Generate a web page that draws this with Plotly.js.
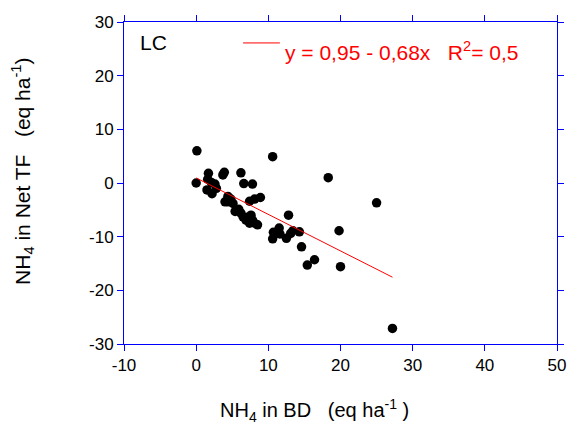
<!DOCTYPE html>
<html>
<head>
<meta charset="utf-8">
<script src="https://cdn.plot.ly/plotly-3.0.1.min.js"></script>
<style>html,body{margin:0;padding:0;background:#fff;}#chart{width:569px;height:428px;}</style>
</head>
<body>
<div id="chart"></div>
<script>
// NH4 in BD (x) vs NH4 in Net TF (y), eq ha-1
const nh4BD = [0.1, 0.0, 1.7, 1.6, 2.1, 2.6, 1.5, 2.8, 2.2, 3.7, 3.9, 4.0, 4.4, 4.4, 5.1,
  6.2, 6.6, 7.8, 5.9, 6.2, 6.5, 6.9, 7.4, 7.6, 7.8, 8.1, 8.5, 7.4, 8.1, 8.9,
  10.6, 10.6, 10.7, 11.5, 11.6, 12.5, 13.1, 13.4, 14.3, 12.8, 14.6, 16.4, 15.4,
  20.0, 19.8, 18.3, 25.0, 27.2, 5.4, 7.1, 4.8];
const nh4NetTF = [6.0, 0.0, 1.8, 0.7, 0.1, -0.2, -1.3, -1.0, -2.0, 1.5, 2.0, -3.5, -2.5, -3.5, -3.8,
  1.9, -0.1, -0.2, -4.9, -5.6, -6.3, -6.9, -7.5, -6.0, -6.9, -7.5, -7.8, -3.4, -3.0, -2.7,
  4.9, -10.4, -9.2, -8.4, -9.5, -10.3, -9.4, -8.9, -9.1, -6.0, -11.9, -14.3, -15.3,
  -15.6, -8.9, 1.0, -3.7, -27.1, -5.3, -6.4, -3.0];
// fitted regression y = 0,95 - 0,68x, drawn over the observed x range
const fitX = [0.0, 27.2];
const fitY = [0.95, -17.55];
const xTicks = [-10, 0, 10, 20, 30, 40, 50];
const yTicks = [-30, -20, -10, 0, 10, 20, 30];
const fitLabel = 'y = 0,95 - 0,68x\u00a0\u00a0\u00a0R<sup>2</sup>= 0,5';
const siteLabel = 'LC';
const xTitle = 'NH<sub>4</sub> in BD\u00a0\u00a0\u00a0(eq ha<sup>-1</sup> )';
const yTitle = 'NH<sub>4</sub> in Net TF\u00a0\u00a0\u00a0(eq ha<sup>-1</sup>)';

const FONT = 'Liberation Sans, Arial, sans-serif';
const axisCommon = {
  showline: true, linecolor: '#0000ff', linewidth: 1, mirror: 'ticks',
  ticks: 'outside', ticklen: 6, tickcolor: '#0000ff', tickwidth: 1,
  showgrid: false, zeroline: false, tickmode: 'array',
  tickfont: {family: FONT, size: 17, color: '#000'}
};

const data = [
  {x: nh4BD, y: nh4NetTF, type: 'scatter', mode: 'markers',
   marker: {color: '#000', size: 9.5}, showlegend: false},
  {x: fitX, y: fitY, type: 'scatter', mode: 'lines',
   line: {color: '#ff0000', width: 1}, showlegend: false}
];

const layout = {
  width: 569, height: 428,
  margin: {l: 124, r: 12, t: 22, b: 84},
  paper_bgcolor: '#fff', plot_bgcolor: '#fff',
  font: {family: FONT, color: '#000'},
  showlegend: false,
  xaxis: Object.assign({}, axisCommon, {
    range: [-10, 50], tickvals: xTicks, ticktext: xTicks.map(String)
  }),
  yaxis: Object.assign({}, axisCommon, {
    range: [-30, 30], tickvals: yTicks, ticktext: yTicks.map(String)
  }),
  shapes: [
    {type: 'line', xref: 'paper', yref: 'paper', x0: 0.275, x1: 0.36, y0: 0.935, y1: 0.935,
     line: {color: '#ff0000', width: 1}}
  ],
  annotations: [
    {text: siteLabel, xref: 'paper', yref: 'paper', x: 0.033, y: 0.935,
     xanchor: 'left', yanchor: 'middle', showarrow: false,
     font: {size: 21, color: '#000'}},
    {text: fitLabel, xref: 'paper', yref: 'paper', x: 0.368, y: 0.91,
     xanchor: 'left', yanchor: 'middle', showarrow: false,
     font: {size: 21, color: '#ff0000'}},
    {text: xTitle, xref: 'paper', yref: 'paper', x: 0.441, y: -0.205,
     xanchor: 'center', yanchor: 'middle', showarrow: false,
     font: {size: 20, color: '#000'}},
    {text: yTitle, xref: 'paper', yref: 'paper', x: -0.236, y: 0.537,
     xanchor: 'center', yanchor: 'middle', showarrow: false, textangle: -90,
     font: {size: 21, color: '#000'}}
  ]
};

Plotly.newPlot('chart', data, layout, {displayModeBar: false, staticPlot: true});
</script>
</body>
</html>
